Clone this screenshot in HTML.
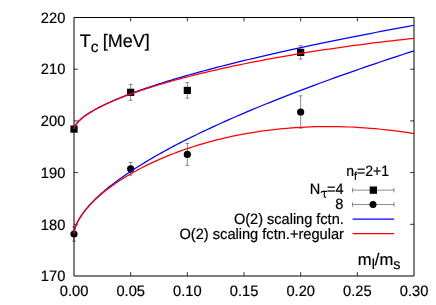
<!DOCTYPE html>
<html><head><meta charset="utf-8"><title>Tc</title>
<style>html,body{margin:0;padding:0;background:#fff;}body{width:436px;height:305px;overflow:hidden;position:relative;font-family:"Liberation Sans",sans-serif;}</style></head>
<body>
<svg width="436" height="305" viewBox="0 0 436 305" style="position:absolute;left:0;top:0;will-change:transform;opacity:0.999">
<rect x="0" y="0" width="436" height="305" fill="#fff"/>
<g stroke="#000" stroke-width="1" fill="none">
<path d="M74.00,17.50 L414.00,17.50 L414.00,276.00 L74.00,276.00 Z"/>
</g><g stroke="#000" stroke-width="0.8" fill="none">
<path d="M130.67,276.00 v-3.90 M130.67,17.50 v3.90"/>
<path d="M187.33,276.00 v-3.90 M187.33,17.50 v3.90"/>
<path d="M244.00,276.00 v-3.90 M244.00,17.50 v3.90"/>
<path d="M300.67,276.00 v-3.90 M300.67,17.50 v3.90"/>
<path d="M357.33,276.00 v-3.90 M357.33,17.50 v3.90"/>
<path d="M74.00,224.30 h3.90 M414.00,224.30 h-3.90"/>
<path d="M74.00,172.60 h3.90 M414.00,172.60 h-3.90"/>
<path d="M74.00,120.90 h3.90 M414.00,120.90 h-3.90"/>
<path d="M74.00,69.20 h3.90 M414.00,69.20 h-3.90"/>
</g>
<g stroke="#000" stroke-width="0.45" fill="none">
<path d="M130.67,84.35 V100.27 M128.67,84.35 h4.00 M128.67,100.27 h4.00"/>
<path d="M187.33,82.64 V98.15 M185.33,82.64 h4.00 M185.33,98.15 h4.00"/>
<path d="M300.67,45.68 V59.12 M298.67,45.68 h4.00 M298.67,59.12 h4.00"/>
<path d="M74.00,226.88 V241.15 M72.00,226.88 h4.00 M72.00,241.15 h4.00"/>
<path d="M130.67,162.42 V175.24 M128.67,162.42 h4.00 M128.67,175.24 h4.00"/>
<path d="M187.33,143.39 V165.41 M185.33,143.39 h4.00 M185.33,165.41 h4.00"/>
<path d="M300.67,95.83 V128.19 M298.67,95.83 h4.00 M298.67,128.19 h4.00"/>
</g>
<rect x="70.40" y="125.52" width="7.2" height="7.2" fill="#000"/>
<rect x="127.07" y="88.71" width="7.2" height="7.2" fill="#000"/>
<rect x="183.73" y="86.80" width="7.2" height="7.2" fill="#000"/>
<rect x="297.07" y="48.80" width="7.2" height="7.2" fill="#000"/>
<circle cx="74.00" cy="234.02" r="3.6" fill="#000"/>
<circle cx="130.67" cy="168.83" r="3.6" fill="#000"/>
<circle cx="187.33" cy="154.40" r="3.6" fill="#000"/>
<circle cx="300.67" cy="112.01" r="3.6" fill="#000"/>
<g fill="none" stroke-width="1.25" stroke-linejoin="round">
<path d="M74.00,129.17 L74.02,128.84 L74.09,128.41 L74.21,127.93 L74.38,127.42 L74.59,126.88 L74.85,126.32 L75.16,125.74 L75.51,125.14 L75.91,124.53 L76.36,123.90 L76.86,123.27 L77.40,122.62 L77.99,121.95 L78.63,121.28 L79.31,120.60 L80.04,119.91 L80.82,119.21 L81.65,118.51 L82.52,117.79 L83.44,117.07 L84.41,116.34 L85.43,115.60 L86.49,114.86 L87.60,114.11 L88.76,113.35 L89.96,112.59 L91.21,111.82 L92.51,111.05 L93.86,110.27 L95.25,109.48 L96.69,108.69 L98.18,107.90 L99.71,107.10 L101.29,106.29 L102.92,105.48 L104.60,104.67 L106.32,103.85 L108.09,103.03 L109.91,102.20 L111.78,101.37 L113.69,100.53 L115.65,99.69 L117.66,98.85 L119.71,98.00 L121.81,97.15 L123.96,96.29 L126.16,95.43 L128.40,94.57 L130.69,93.70 L133.03,92.83 L135.41,91.96 L137.84,91.08 L140.32,90.20 L142.85,89.31 L145.42,88.43 L148.04,87.54 L150.71,86.64 L153.43,85.75 L156.19,84.85 L159.00,83.94 L161.86,83.04 L164.76,82.13 L167.71,81.22 L170.71,80.30 L173.76,79.38 L176.85,78.46 L179.99,77.54 L183.18,76.61 L186.41,75.68 L189.69,74.75 L193.02,73.82 L196.40,72.88 L199.82,71.94 L203.29,71.00 L206.81,70.05 L210.38,69.11 L213.99,68.16 L217.65,67.21 L221.36,66.25 L225.11,65.29 L228.91,64.33 L232.76,63.37 L236.66,62.41 L240.60,61.44 L244.59,60.47 L248.63,59.50 L252.71,58.53 L256.84,57.55 L261.02,56.58 L265.25,55.60 L269.52,54.61 L273.84,53.63 L278.21,52.64 L282.63,51.66 L287.09,50.66 L291.60,49.67 L296.16,48.68 L300.76,47.68 L305.41,46.68 L310.11,45.68 L314.86,44.68 L319.65,43.67 L324.49,42.67 L329.38,41.66 L334.31,40.65 L339.29,39.63 L344.32,38.62 L349.40,37.60 L354.52,36.58 L359.69,35.56 L364.91,34.54 L370.18,33.52 L375.49,32.49 L380.85,31.46 L386.26,30.44 L391.71,29.40 L397.21,28.37 L402.76,27.34 L408.36,26.30 L414.00,25.26" stroke="#0000ff"/>
<path d="M74.00,129.17 L74.02,128.84 L74.09,128.41 L74.21,127.93 L74.38,127.42 L74.59,126.88 L74.85,126.32 L75.16,125.74 L75.51,125.14 L75.91,124.53 L76.36,123.90 L76.86,123.27 L77.40,122.62 L77.99,121.96 L78.63,121.29 L79.31,120.61 L80.04,119.92 L80.82,119.22 L81.65,118.51 L82.52,117.80 L83.44,117.08 L84.41,116.35 L85.43,115.62 L86.49,114.88 L87.60,114.13 L88.76,113.38 L89.96,112.62 L91.21,111.86 L92.51,111.09 L93.86,110.31 L95.25,109.54 L96.69,108.75 L98.18,107.97 L99.71,107.17 L101.29,106.38 L102.92,105.58 L104.60,104.78 L106.32,103.97 L108.09,103.16 L109.91,102.35 L111.78,101.53 L113.69,100.71 L115.65,99.89 L117.66,99.06 L119.71,98.23 L121.81,97.40 L123.96,96.57 L126.16,95.74 L128.40,94.90 L130.69,94.06 L133.03,93.22 L135.41,92.38 L137.84,91.54 L140.32,90.69 L142.85,89.85 L145.42,89.00 L148.04,88.15 L150.71,87.31 L153.43,86.46 L156.19,85.61 L159.00,84.76 L161.86,83.91 L164.76,83.06 L167.71,82.20 L170.71,81.35 L173.76,80.50 L176.85,79.65 L179.99,78.80 L183.18,77.96 L186.41,77.11 L189.69,76.26 L193.02,75.41 L196.40,74.57 L199.82,73.73 L203.29,72.88 L206.81,72.04 L210.38,71.20 L213.99,70.37 L217.65,69.53 L221.36,68.70 L225.11,67.87 L228.91,67.04 L232.76,66.21 L236.66,65.39 L240.60,64.57 L244.59,63.75 L248.63,62.94 L252.71,62.13 L256.84,61.32 L261.02,60.52 L265.25,59.72 L269.52,58.92 L273.84,58.13 L278.21,57.34 L282.63,56.56 L287.09,55.78 L291.60,55.01 L296.16,54.24 L300.76,53.48 L305.41,52.72 L310.11,51.96 L314.86,51.22 L319.65,50.47 L324.49,49.74 L329.38,49.01 L334.31,48.28 L339.29,47.57 L344.32,46.85 L349.40,46.15 L354.52,45.45 L359.69,44.76 L364.91,44.08 L370.18,43.40 L375.49,42.74 L380.85,42.08 L386.26,41.42 L391.71,40.78 L397.21,40.14 L402.76,39.52 L408.36,38.90 L414.00,38.29" stroke="#ff0000"/>
<path d="M74.00,233.86 L74.02,233.28 L74.09,232.52 L74.21,231.68 L74.38,230.77 L74.59,229.83 L74.85,228.84 L75.16,227.82 L75.51,226.77 L75.91,225.69 L76.36,224.59 L76.86,223.46 L77.40,222.32 L77.99,221.15 L78.63,219.97 L79.31,218.77 L80.04,217.56 L80.82,216.33 L81.65,215.08 L82.52,213.82 L83.44,212.55 L84.41,211.26 L85.43,209.97 L86.49,208.66 L87.60,207.34 L88.76,206.00 L89.96,204.66 L91.21,203.31 L92.51,201.94 L93.86,200.57 L95.25,199.19 L96.69,197.80 L98.18,196.40 L99.71,194.99 L101.29,193.57 L102.92,192.14 L104.60,190.71 L106.32,189.27 L108.09,187.82 L109.91,186.36 L111.78,184.89 L113.69,183.42 L115.65,181.94 L117.66,180.45 L119.71,178.96 L121.81,177.46 L123.96,175.95 L126.16,174.44 L128.40,172.92 L130.69,171.39 L133.03,169.86 L135.41,168.32 L137.84,166.77 L140.32,165.22 L142.85,163.66 L145.42,162.10 L148.04,160.53 L150.71,158.96 L153.43,157.38 L156.19,155.79 L159.00,154.20 L161.86,152.61 L164.76,151.00 L167.71,149.40 L170.71,147.79 L173.76,146.17 L176.85,144.55 L179.99,142.92 L183.18,141.29 L186.41,139.66 L189.69,138.01 L193.02,136.37 L196.40,134.72 L199.82,133.06 L203.29,131.41 L206.81,129.74 L210.38,128.07 L213.99,126.40 L217.65,124.72 L221.36,123.04 L225.11,121.36 L228.91,119.67 L232.76,117.97 L236.66,116.28 L240.60,114.57 L244.59,112.87 L248.63,111.16 L252.71,109.44 L256.84,107.72 L261.02,106.00 L265.25,104.28 L269.52,102.55 L273.84,100.81 L278.21,99.08 L282.63,97.33 L287.09,95.59 L291.60,93.84 L296.16,92.09 L300.76,90.33 L305.41,88.57 L310.11,86.81 L314.86,85.05 L319.65,83.28 L324.49,81.50 L329.38,79.73 L334.31,77.94 L339.29,76.16 L344.32,74.37 L349.40,72.58 L354.52,70.79 L359.69,68.99 L364.91,67.19 L370.18,65.39 L375.49,63.58 L380.85,61.77 L386.26,59.96 L391.71,58.14 L397.21,56.32 L402.76,54.50 L408.36,52.68 L414.00,50.85" stroke="#0000ff"/>
<path d="M74.00,233.86 L74.02,233.28 L74.09,232.52 L74.21,231.68 L74.38,230.78 L74.59,229.84 L74.85,228.85 L75.16,227.83 L75.51,226.79 L75.91,225.71 L76.36,224.62 L76.86,223.50 L77.40,222.36 L77.99,221.20 L78.63,220.02 L79.31,218.83 L80.04,217.63 L80.82,216.41 L81.65,215.17 L82.52,213.93 L83.44,212.67 L84.41,211.40 L85.43,210.12 L86.49,208.84 L87.60,207.54 L88.76,206.23 L89.96,204.92 L91.21,203.60 L92.51,202.28 L93.86,200.94 L95.25,199.61 L96.69,198.26 L98.18,196.92 L99.71,195.56 L101.29,194.21 L102.92,192.85 L104.60,191.49 L106.32,190.13 L108.09,188.77 L109.91,187.41 L111.78,186.04 L113.69,184.68 L115.65,183.32 L117.66,181.96 L119.71,180.60 L121.81,179.24 L123.96,177.89 L126.16,176.54 L128.40,175.19 L130.69,173.85 L133.03,172.51 L135.41,171.18 L137.84,169.86 L140.32,168.54 L142.85,167.23 L145.42,165.93 L148.04,164.63 L150.71,163.35 L153.43,162.08 L156.19,160.81 L159.00,159.56 L161.86,158.32 L164.76,157.09 L167.71,155.88 L170.71,154.68 L173.76,153.49 L176.85,152.32 L179.99,151.17 L183.18,150.03 L186.41,148.91 L189.69,147.80 L193.02,146.72 L196.40,145.65 L199.82,144.61 L203.29,143.58 L206.81,142.58 L210.38,141.60 L213.99,140.64 L217.65,139.71 L221.36,138.80 L225.11,137.92 L228.91,137.06 L232.76,136.23 L236.66,135.43 L240.60,134.65 L244.59,133.91 L248.63,133.19 L252.71,132.51 L256.84,131.86 L261.02,131.24 L265.25,130.66 L269.52,130.11 L273.84,129.60 L278.21,129.12 L282.63,128.68 L287.09,128.28 L291.60,127.92 L296.16,127.60 L300.76,127.32 L305.41,127.08 L310.11,126.89 L314.86,126.74 L319.65,126.63 L324.49,126.57 L329.38,126.56 L334.31,126.59 L339.29,126.68 L344.32,126.81 L349.40,127.00 L354.52,127.24 L359.69,127.53 L364.91,127.88 L370.18,128.28 L375.49,128.74 L380.85,129.25 L386.26,129.82 L391.71,130.46 L397.21,131.15 L402.76,131.91 L408.36,132.73 L414.00,133.61" stroke="#ff0000"/>
</g>
<g font-family="Liberation Sans, sans-serif" font-size="14.40" fill="#000" stroke="#000" stroke-width="0.2" text-rendering="geometricPrecision">
<text transform="translate(65.30,281.25) scale(1.02,1.045)" text-anchor="end">170</text>
<text transform="translate(65.30,229.55) scale(1.02,1.045)" text-anchor="end">180</text>
<text transform="translate(65.30,177.85) scale(1.02,1.045)" text-anchor="end">190</text>
<text transform="translate(65.30,126.15) scale(1.02,1.045)" text-anchor="end">200</text>
<text transform="translate(65.30,74.45) scale(1.02,1.045)" text-anchor="end">210</text>
<text transform="translate(65.30,22.75) scale(1.02,1.045)" text-anchor="end">220</text>
<text transform="translate(74.00,295.80) scale(1.02,1.045)" text-anchor="middle">0.00</text>
<text transform="translate(130.67,295.80) scale(1.02,1.045)" text-anchor="middle">0.05</text>
<text transform="translate(187.33,295.80) scale(1.02,1.045)" text-anchor="middle">0.10</text>
<text transform="translate(244.00,295.80) scale(1.02,1.045)" text-anchor="middle">0.15</text>
<text transform="translate(300.67,295.80) scale(1.02,1.045)" text-anchor="middle">0.20</text>
<text transform="translate(357.33,295.80) scale(1.02,1.045)" text-anchor="middle">0.25</text>
<text transform="translate(414.00,295.80) scale(1.02,1.045)" text-anchor="middle">0.30</text>
</g>
<g font-family="Liberation Sans, sans-serif" fill="#000" stroke="#000" stroke-width="0.2" text-rendering="geometricPrecision">
<text x="79.8" y="47.4" font-size="18">T<tspan font-size="15.5" dy="4.8">c</tspan><tspan dy="-4.8" dx="-0.8"> [MeV]</tspan></text>
<text x="357.8" y="264.5" font-size="16.6">m<tspan font-size="14.4" dy="4.5">l</tspan><tspan dy="-4.5">/m</tspan><tspan font-size="14.4" dy="4.5">s</tspan></text>
<text transform="translate(389,176) scale(0.975,1.045)" font-size="14.4" text-anchor="end">n<tspan font-size="11" dy="3.5">f</tspan><tspan dy="-3.5">=2+1</tspan></text>
<text transform="translate(320.2,193.7) scale(1.01,1.045)" font-size="14.4" text-anchor="end">N</text>
<path d="M320.9,192.7 Q321.4,191.4 322.9,191.4 H327.2 M324.3,191.4 V195.9 Q324.3,197.5 326.1,197.3" fill="none" stroke="#000" stroke-width="1.15"/>
<text transform="translate(343.6,193.7) scale(1.01,1.045)" font-size="14.4" text-anchor="end">=4</text>
<text transform="translate(343.4,209) scale(1.01,1.045)" font-size="14.4" text-anchor="end">8</text>
<text transform="translate(343.8,224) scale(1.01,1.045)" font-size="14.4" text-anchor="end">O(2) scaling fctn.</text>
<text transform="translate(343.9,239) scale(1.015,1.045)" font-size="14.4" text-anchor="end">O(2) scaling fctn.+regular</text>
</g>
<g stroke="#000" stroke-width="0.45" fill="none">
<path d="M352.6,190.15 H394 M352.6,187.85 v4.6 M394,187.85 v4.6"/>
<path d="M352.6,204.50 H394 M352.6,202.20 v4.6 M394,202.20 v4.6"/>
</g>
<rect x="369.7" y="186.5" width="7.3" height="7.3" fill="#000"/>
<circle cx="373.0" cy="204.45" r="3.5" fill="#000"/>
<path d="M352.6,219.0 H394" stroke="#0000ff" stroke-width="1.25"/>
<path d="M352.6,233.6 H394" stroke="#ff0000" stroke-width="1.25"/>
</svg>
</body></html>
